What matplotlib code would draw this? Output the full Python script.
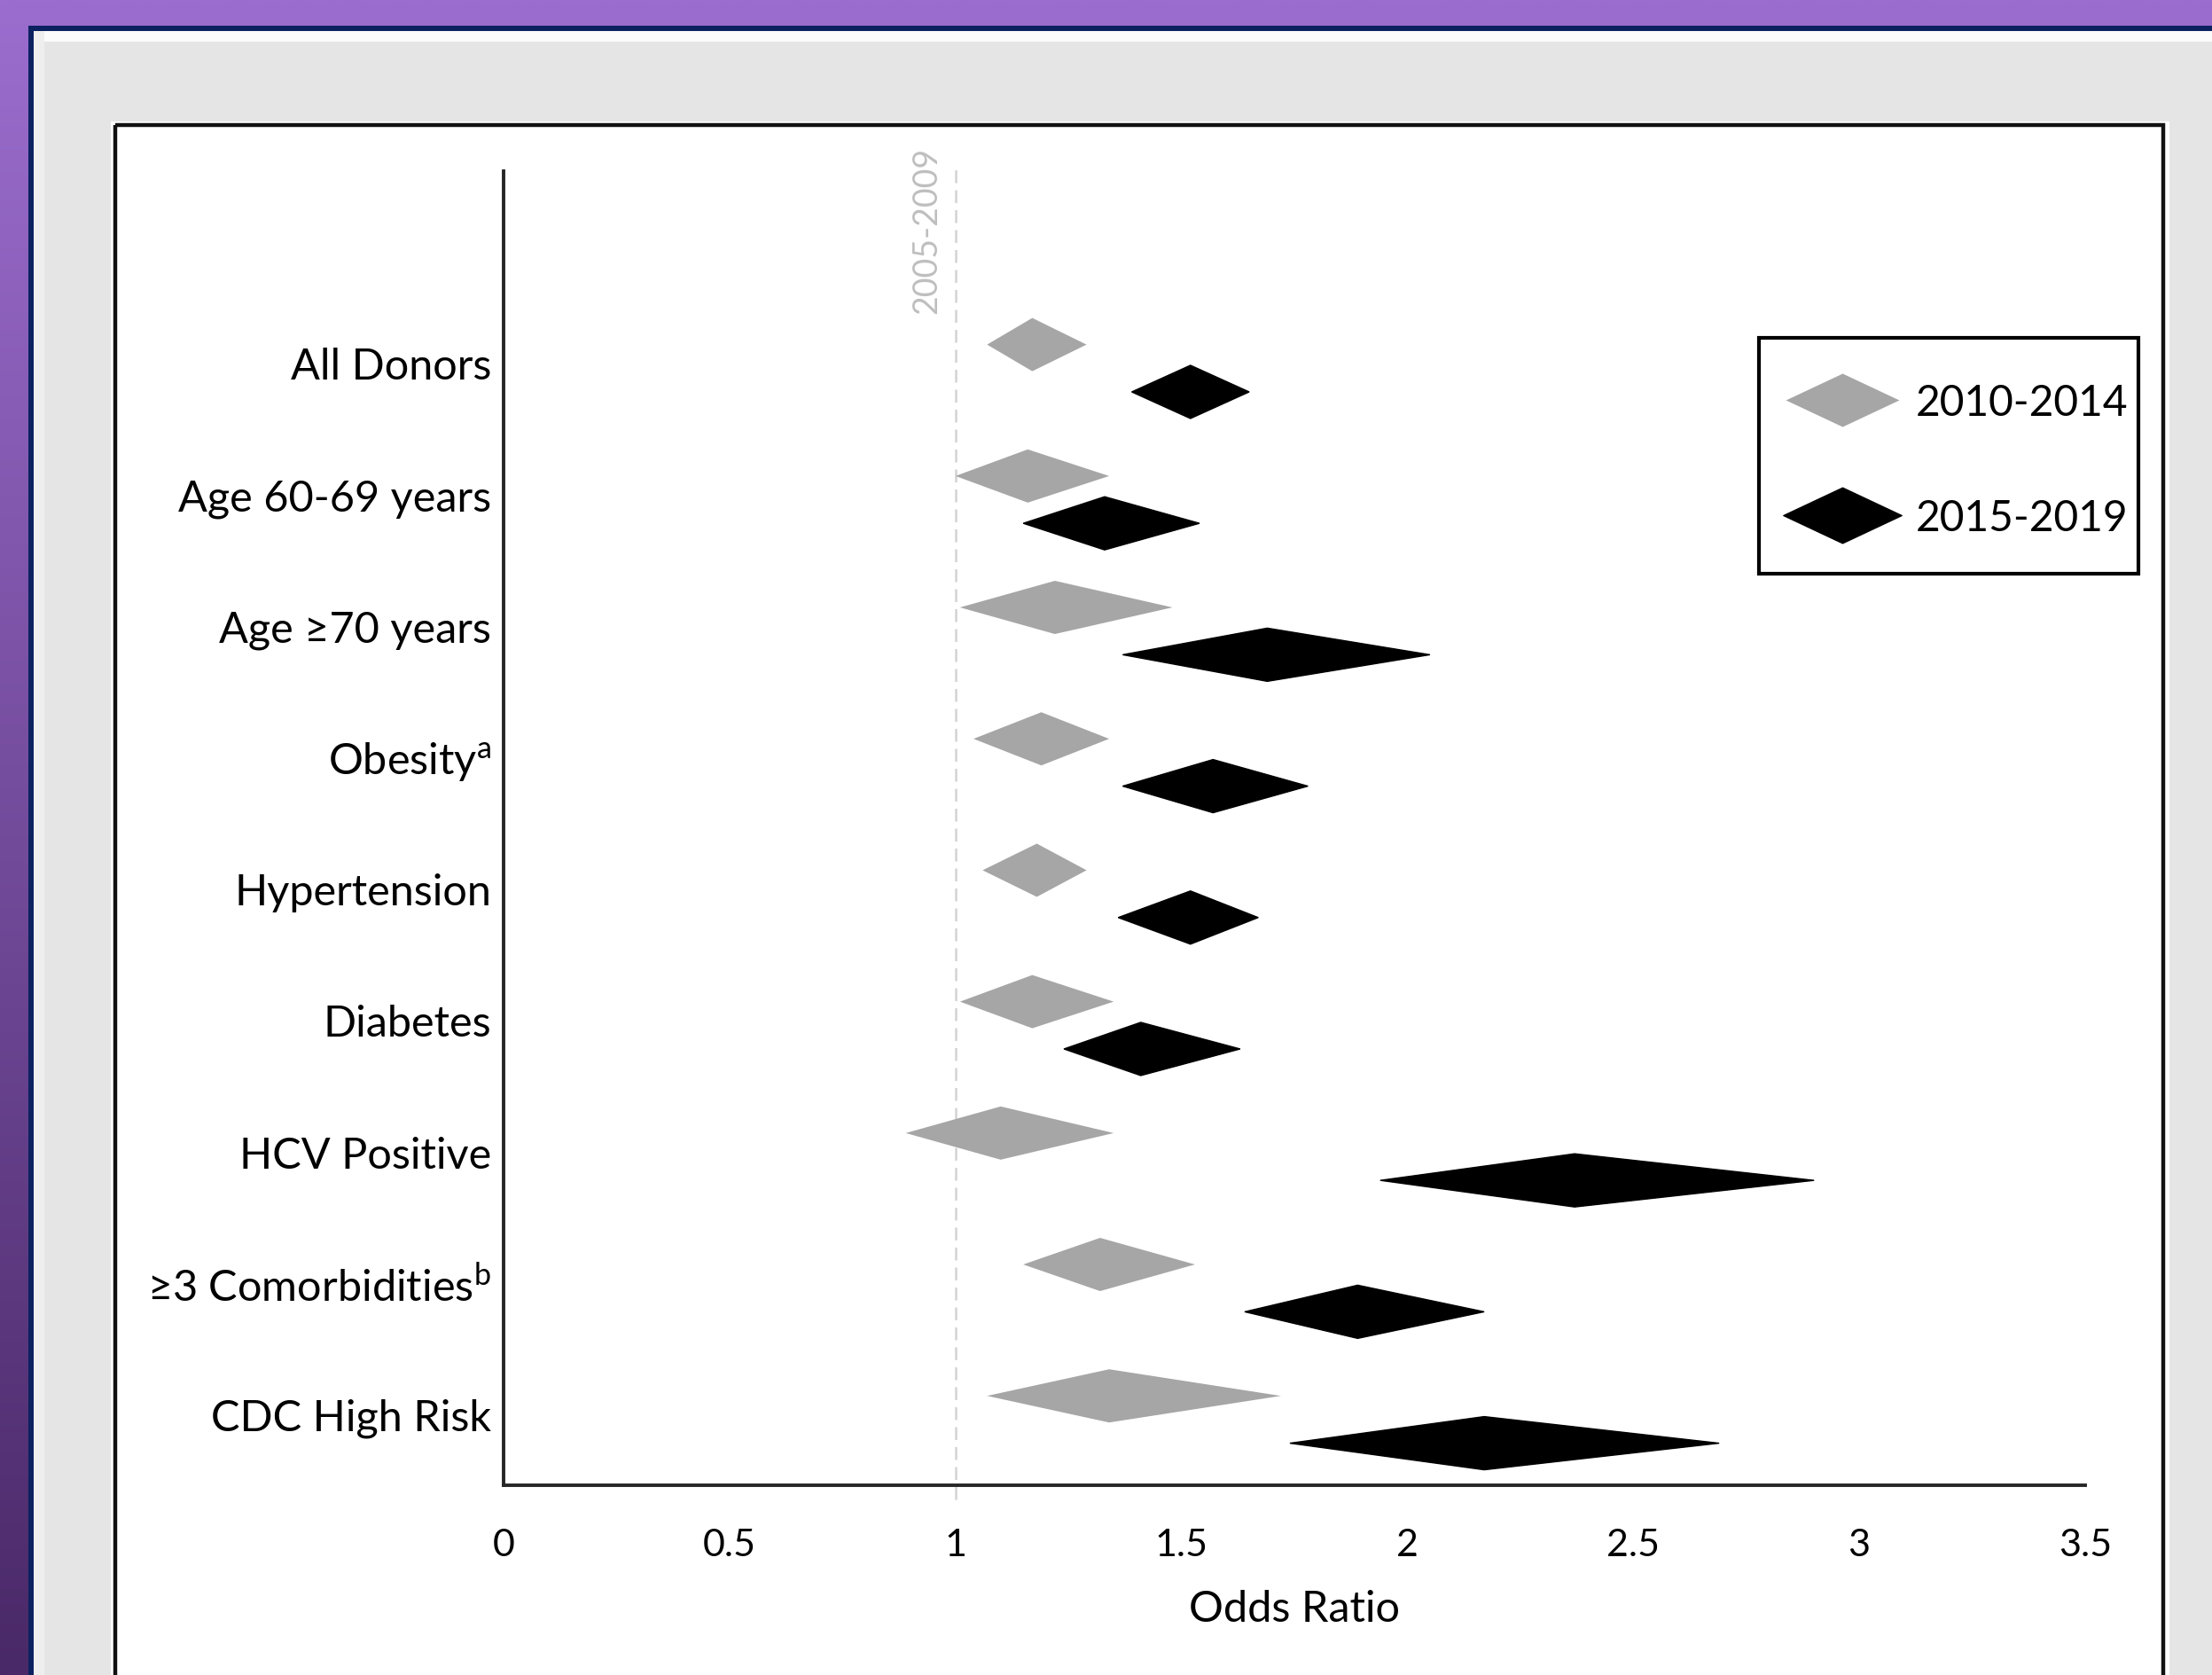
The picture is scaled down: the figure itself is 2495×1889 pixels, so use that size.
import numpy as np
import matplotlib
matplotlib.use("Agg")
import matplotlib.pyplot as plt
from matplotlib.patches import Rectangle
from matplotlib.lines import Line2D
from matplotlib.path import Path

# ---------------- data ----------------
categories = ["All Donors", "Age 60-69 years", "Age \u226570 years",
              r"Obesity$^{\mathregular{a}}$",
              "Hypertension", "Diabetes", "HCV Positive",
              "\u22653 Comorbidities" + r"$^{\mathregular{b}}$", "CDC High Risk"]
or_2010 = [1.17, 1.16, 1.22, 1.19, 1.18, 1.17, 1.10, 1.32, 1.34]
lo_2010 = [1.07, 1.00, 1.01, 1.04, 1.06, 1.01, 0.89, 1.15, 1.07]
hi_2010 = [1.29, 1.34, 1.48, 1.34, 1.29, 1.35, 1.35, 1.53, 1.72]
or_2015 = [1.52, 1.33, 1.69, 1.57, 1.52, 1.41, 2.37, 1.89, 2.17]
lo_2015 = [1.39, 1.15, 1.37, 1.37, 1.36, 1.24, 1.94, 1.64, 1.74]
hi_2015 = [1.65, 1.54, 2.05, 1.78, 1.67, 1.63, 2.90, 2.17, 2.69]
series_labels = ["2010-2014", "2015-2019"]
reference_label = "2005-2009"
reference_value = 1
xticks = [0, 0.5, 1, 1.5, 2, 2.5, 3, 3.5]
xtick_labels = ["0", "0.5", "1", "1.5", "2", "2.5", "3", "3.5"]

# ---------------- figure ----------------
plt.rcParams['font.family'] = ['Lato', 'DejaVu Sans']
W, H = 2495, 1890
DPI = 100
fig = plt.figure(figsize=(W / DPI, H / DPI), dpi=DPI)

# background (pixel coordinates)
bg = fig.add_axes([0, 0, 1, 1], zorder=0)
top = np.array([0x9b, 0x6d, 0xce]) / 255.0
bot = np.array([0x4a, 0x29, 0x68]) / 255.0
t = np.linspace(0, 1, 256)[:, None]
grad = (top * (1 - t) + bot * t).reshape(256, 1, 3)
bg.imshow(grad, extent=[0, W, H, 0], aspect='auto', interpolation='bilinear')
bg.set_xlim(0, W)
bg.set_ylim(H, 0)
bg.axis('off')
bg.add_patch(Rectangle((32, 30), W, H, facecolor='#0c2160', edgecolor='none'))
bg.add_patch(Rectangle((38, 36), W, H, facecolor='#e5e5e5', edgecolor='none'))
bg.add_patch(Rectangle((38, 36), W, 12, facecolor='#fbfbfb', edgecolor='none'))
bg.add_patch(Rectangle((38, 36), 12, H, facecolor='#eeeeee', edgecolor='none'))
bg.add_patch(Rectangle((125, 138), 2447 - 125, H, facecolor='white', edgecolor='none'))
bg.add_patch(Rectangle((130, 142), 2440 - 130, H, facecolor='none',
                       edgecolor='#111111', linewidth=3.2))
# legend frame
bg.add_patch(Rectangle((1984, 382), 2412 - 1984, 648 - 382, facecolor='white',
                       edgecolor='black', linewidth=3))

# main axes
ax = fig.add_axes([568 / W, 1 - 1676 / H, (2352 - 568) / W, (1676 - 194) / H], zorder=2)
ax.set_facecolor('none')
ax.set_xlim(0, 3.5)
ax.set_ylim(0, 10)

n = len(categories)
ypos = np.arange(n)[::-1]  # All Donors at top
h = 0.405
gray = '#a6a6a6'
for i in range(n):
    y = ypos[i] + 0.68
    ax.fill([lo_2010[i], or_2010[i], hi_2010[i], or_2010[i]],
            [y, y + h / 2, y, y - h / 2], facecolor=gray, edgecolor='none', zorder=3)
    y = ypos[i] + 0.32
    ax.fill([lo_2015[i], or_2015[i], hi_2015[i], or_2015[i]],
            [y, y + h / 2, y, y - h / 2], facecolor='black', edgecolor='black',
            linewidth=1, zorder=3)

# reference line
ax.plot([reference_value, reference_value], [-0.11, 10.02], color='#d3d3d3', lw=1.8,
        ls=(0, (5.8, 3.2)), clip_on=False, zorder=1)
ax.text(0.936, 9.555, reference_label, rotation=90, ha='center', va='center',
        color='#bfbfbf', fontsize=27, zorder=2)

# axes styling
for s in ['top', 'right']:
    ax.spines[s].set_visible(False)
for s in ['left', 'bottom']:
    ax.spines[s].set_color('#262626')
    ax.spines[s].set_linewidth(2.8)

ax.set_yticks(ypos + 0.54)
ax.set_yticklabels(categories, fontsize=35)
ax.set_xticks(xticks)
ax.set_xticklabels(xtick_labels, fontsize=31)
ax.tick_params(axis='y', length=0, pad=10)
ax.tick_params(axis='x', length=0, pad=34.5)
ax.set_xlabel('Odds Ratio', fontsize=35)
ax.xaxis.set_label_coords(0.5, (1676 - 1815) / 1482)
ax.xaxis.label.set_va('center')

# legend
dpath = Path([(-1, 0), (0, 0.47), (1, 0), (0, -0.47), (-1, 0)],
             [Path.MOVETO, Path.LINETO, Path.LINETO, Path.LINETO, Path.CLOSEPOLY])
h1 = Line2D([], [], ls='none', marker=dpath, markersize=92,
            markerfacecolor=gray, markeredgecolor=gray, markeredgewidth=0)
h2 = Line2D([], [], ls='none', marker=dpath, markersize=96,
            markerfacecolor='black', markeredgecolor='black', markeredgewidth=1)
leg = ax.legend([h1, h2], series_labels, loc='center left',
                bbox_to_anchor=(2022 / W, 1 - 520 / H), bbox_transform=fig.transFigure,
                borderaxespad=0, frameon=False, fontsize=34.5, borderpad=0,
                labelspacing=1.8, handlelength=2.34, handletextpad=0.55,
                handleheight=0.7)

fig.savefig('out.png', dpi=DPI)
